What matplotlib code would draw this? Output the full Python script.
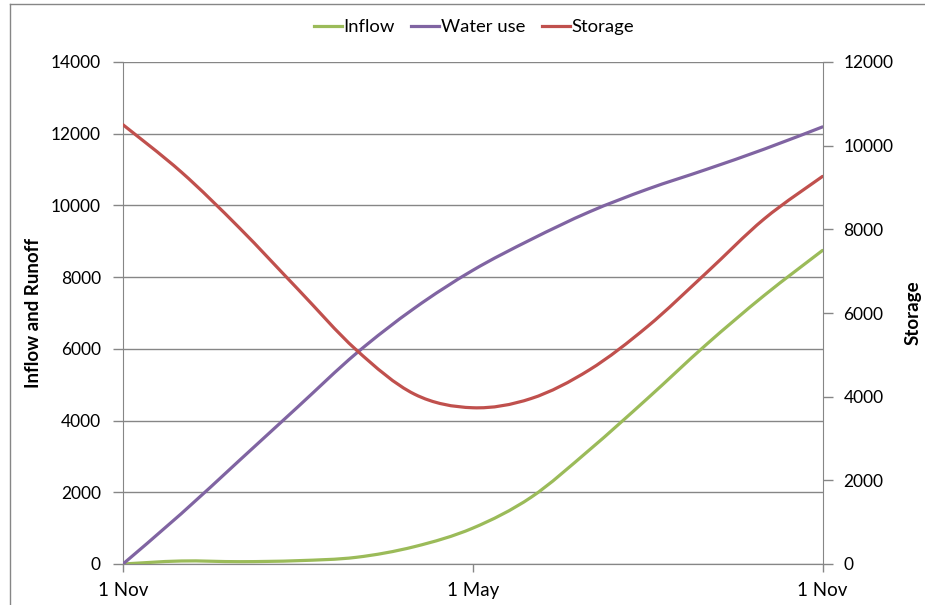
import matplotlib
matplotlib.use("Agg")
import matplotlib.pyplot as plt
import numpy as np
from matplotlib.path import Path
from matplotlib.patches import PathPatch
from matplotlib.lines import Line2D

# ---- data (monthly, 1 Nov .. 1 Nov) ----
months = list(range(13))
inflow = [0, 84, 65, 93, 186, 484, 1000, 1860, 3180, 4620, 6110, 7490, 8745]
water_use = [0, 1404, 2893, 4383, 5872, 7135, 8190, 9050, 9820, 10455, 11000, 11570, 12190]
storage = [10500, 9370, 8030, 6570, 5120, 4060, 3735, 3955, 4640, 5680, 6950, 8250, 9265]
x_ticks = [0, 6, 12]
x_tick_labels = ["1 Nov", "1 May", "1 Nov"]
left_ticks = list(range(0, 14001, 2000))
right_ticks = list(range(0, 12001, 2000))

C_IN = "#9BBB59"
C_WU = "#8064A2"
C_ST = "#C0504D"
GRID = "#868686"

plt.rcParams['font.family'] = ['Lato', 'DejaVu Sans']

W, H = 925, 605
fig = plt.figure(figsize=(W / 100, H / 100), dpi=100)
x0, x1, yt, yb = 123, 822.5, 62, 564
ax = fig.add_axes([x0 / W, 1 - yb / H, (x1 - x0) / W, (yb - yt) / H])
ax2 = ax.twinx()


def smooth_patch(axis, xs, ys, color):
    xs = np.asarray(xs, float)
    ys = np.asarray(ys, float)
    n = len(xs)
    verts = [(xs[0], ys[0])]
    codes = [Path.MOVETO]
    for i in range(n - 1):
        p0 = max(i - 1, 0)
        p3 = min(i + 2, n - 1)
        c1 = (xs[i] + (xs[i + 1] - xs[p0]) / 6, ys[i] + (ys[i + 1] - ys[p0]) / 6)
        c2 = (xs[i + 1] - (xs[p3] - xs[i]) / 6, ys[i + 1] - (ys[p3] - ys[i]) / 6)
        verts += [c1, c2, (xs[i + 1], ys[i + 1])]
        codes += [Path.CURVE4] * 3
    patch = PathPatch(Path(verts, codes), facecolor="none", edgecolor=color,
                      lw=2.3, capstyle="round", joinstyle="round", zorder=3)
    axis.add_patch(patch)
    return patch


smooth_patch(ax, months, inflow, C_IN)
smooth_patch(ax, months, water_use, C_WU)
smooth_patch(ax2, months, storage, C_ST)

ax.set_xlim(0, 12)
ax.set_ylim(0, 14000)
ax2.set_ylim(0, 12000)
ax.set_yticks(left_ticks)
ax.set_yticklabels([str(v) for v in left_ticks])
ax2.set_yticks(right_ticks)
ax2.set_yticklabels([str(v) for v in right_ticks])
ax.set_xticks(x_ticks)
ax.set_xticklabels(x_tick_labels, fontsize=13.5)

ax.grid(axis="y", color=GRID, lw=1.0)
ax.set_axisbelow(True)
for a in (ax, ax2):
    a.spines["top"].set_visible(False)
    a.spines["left"].set_color(GRID)
    a.spines["right"].set_color(GRID)
    a.spines["bottom"].set_color(GRID)
    a.patch.set_visible(False)
ax2.spines["left"].set_visible(False)
ax.spines["right"].set_visible(False)

ax.tick_params(axis="y", colors=GRID, labelcolor="black", labelsize=12.5,
               length=7, width=1, direction="out", pad=9)
ax.tick_params(axis="x", colors=GRID, labelcolor="black", labelsize=13.5,
               length=6, width=1, direction="out", pad=7)
ax2.tick_params(axis="y", colors=GRID, labelcolor="black", labelsize=12.5,
                length=7, width=1, direction="out", pad=8)

ax.set_ylabel("Inflow and Runoff", fontsize=13.5, fontweight="bold", labelpad=6)
ax2.set_ylabel("Storage", fontsize=13.5, fontweight="bold", labelpad=8)

handles = [Line2D([], [], color=C_IN, lw=2.3),
           Line2D([], [], color=C_WU, lw=2.3),
           Line2D([], [], color=C_ST, lw=2.3)]
fig.legend(handles, ["Inflow", "Water use", "Storage"], loc="center",
           bbox_to_anchor=(474 / W, 1 - 27 / H), ncol=3, frameon=False,
           fontsize=13.3, handlelength=1.5, handletextpad=0.1,
           columnspacing=0.9)

# outer chart frame (partially cropped in the reference)
fig.add_artist(Line2D([9.5 / W, 9.5 / W], [0, 1 - 4 / H], color=GRID, lw=1,
                      transform=fig.transFigure))
fig.add_artist(Line2D([9.5 / W, 1], [1 - 4 / H, 1 - 4 / H], color=GRID, lw=1,
                      transform=fig.transFigure))

fig.savefig("out.png", dpi=100)
